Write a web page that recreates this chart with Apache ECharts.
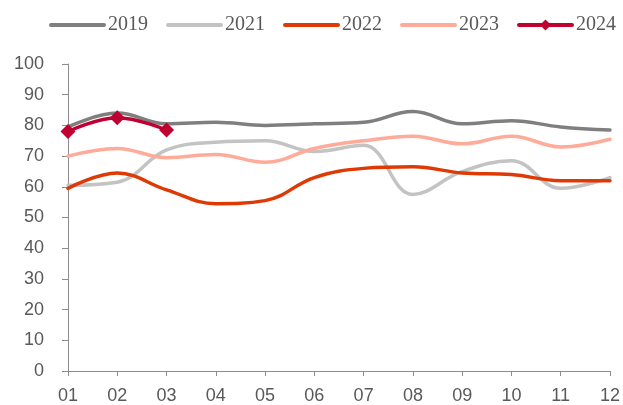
<!DOCTYPE html>
<html>
<head>
<meta charset="utf-8">
<script src="https://cdn.jsdelivr.net/npm/echarts@6/dist/echarts.min.js"></script>
<style>
  html, body { margin: 0; padding: 0; background: #fff; }
  #chart { width: 623px; height: 405px; }
</style>
</head>
<body>
<div id="chart"></div>
<script>
const months = ["01", "02", "03", "04", "05", "06", "07", "08", "09", "10", "11", "12"];
const y2019 = [79.5, 84, 80.5, 81, 80, 80.5, 81, 84.5, 80.5, 81.5, 79.5, 78.5];
const y2021 = [60.5, 61.5, 72, 74.5, 75, 71.5, 73.5, 57.5, 65, 68.5, 59.5, 63];
const y2022 = [59.5, 64.5, 59, 54.5, 55.5, 63, 66, 66.5, 64.5, 64, 62, 62];
const y2023 = [70, 72.5, 69.5, 70.5, 68, 72.5, 75, 76.5, 74, 76.5, 73, 75.5];
const y2024 = [78, 82.5, 78.5];

const axisGray = "#8c8c8c";
const labelGray = "#595959";

function line(name, data, color, extra) {
  return Object.assign({
    name: name,
    type: "line",
    data: data,
    smooth: 0.4,
    symbol: "none",
    lineStyle: { width: 3.5, color: color, cap: "round" },
    itemStyle: { color: color },
    emphasis: { disabled: true },
  }, extra || {});
}

// plain line in the legend: hide the default circle marker
const noMark = { itemStyle: { opacity: 0 } };

const chart = echarts.init(document.getElementById("chart"));
chart.setOption({
  animation: false,
  legend: {
    top: 10,
    left: 44,
    itemWidth: 53,
    itemHeight: 14,
    itemGap: 18,
    lineStyle: { width: 4, cap: "round" },
    textStyle: { fontFamily: "Liberation Serif", fontSize: 20, color: labelGray, padding: [0, 0, 0, -1] },
    data: [
      Object.assign({ name: "2019" }, noMark),
      Object.assign({ name: "2021" }, noMark),
      Object.assign({ name: "2022" }, noMark),
      Object.assign({ name: "2023" }, noMark),
      { name: "2024" },
    ],
  },
  grid: { left: 68, right: 11, top: 64, bottom: 30 },
  xAxis: {
    type: "category",
    data: months,
    boundaryGap: false,
    axisLine: { lineStyle: { color: axisGray, width: 1 } },
    axisTick: { show: true, length: 5, lineStyle: { color: axisGray } },
    axisLabel: { fontFamily: "Liberation Sans", fontSize: 18, color: labelGray, margin: 16 },
  },
  yAxis: {
    type: "value",
    min: 0,
    max: 100,
    interval: 10,
    axisLine: { show: true, lineStyle: { color: axisGray, width: 1 } },
    axisTick: { show: true, length: 6, lineStyle: { color: axisGray } },
    axisLabel: { fontFamily: "Liberation Sans", fontSize: 18, color: labelGray, margin: 24 },
    splitLine: { show: false },
  },
  series: [
    line("2019", y2019, "#7f7f7f"),
    line("2021", y2021, "#c3c3c3"),
    line("2022", y2022, "#de3a05"),
    line("2023", y2023, "#ffab9a"),
    line("2024", y2024, "#c00030", { symbol: "diamond", symbolSize: 15, z: 5 }),
  ],
});
</script>
</body>
</html>
